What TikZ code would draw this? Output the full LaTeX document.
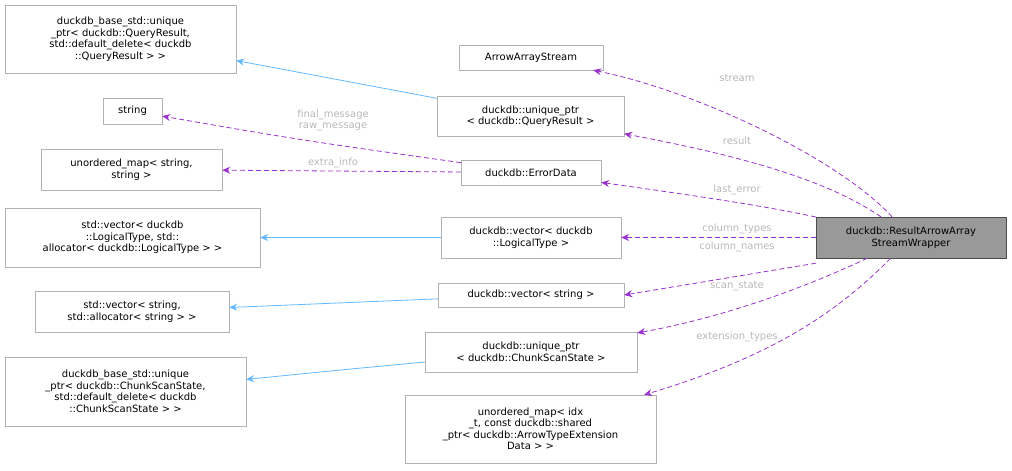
\documentclass[tikz,border=0pt]{standalone}
\usepackage{fontspec}
\setmainfont{DejaVu Sans}
\usetikzlibrary{arrows.meta}
\definecolor{memc}{RGB}{154,50,205}
\definecolor{inhc}{RGB}{99,184,255}
\begin{document}
\begin{tikzpicture}[x=1pt,y=-1pt,
 box/.style={draw=black!30,fill=white,align=center,inner sep=2pt,font=\fontsize{10}{11.5}\selectfont},
 mem/.style={draw=memc,line width=0.8pt,dash pattern=on 5pt off 3pt,-{Stealth[length=8pt,width=7pt]}},
 inh/.style={draw=inhc,line width=0.8pt,-{Stealth[length=8pt,width=7pt]}},
 lab/.style={text=black!28,font=\fontsize{10}{11}\selectfont,inner sep=0pt,align=center}]
\useasboundingbox (0,0) rectangle (1012,471);
\node[box,minimum width=231,minimum height=68] (b1) at (120.5,39) {duckdb\_base\_std::unique\\\_ptr< duckdb::QueryResult,\\ std::default\_delete< duckdb\\::QueryResult > >};
\node[box,minimum width=144,minimum height=25] (aas) at (531,57.5) {ArrowArrayStream};
\node[box,minimum width=59,minimum height=26] (str) at (132.5,111) {string};
\node[box,minimum width=187,minimum height=40] (uq) at (530.5,116) {duckdb::unique\_ptr\\< duckdb::QueryResult >};
\node[box,minimum width=181,minimum height=41] (um) at (131.5,169.5) {unordered\_map< string,\\ string >};
\node[box,minimum width=140,minimum height=25] (ed) at (531,172.5) {duckdb::ErrorData};
\node[box,minimum width=255,minimum height=59] (sv) at (132.5,237.5) {std::vector< duckdb\\::LogicalType, std::\\allocator< duckdb::LogicalType > >};
\node[box,minimum width=180,minimum height=41] (vl) at (531,237.5) {duckdb::vector< duckdb\\::LogicalType >};
\node[box,fill=black!40,draw=black!70,minimum width=190,minimum height=41] (w) at (911,237.5) {duckdb::ResultArrowArray\\StreamWrapper};
\node[box,minimum width=186,minimum height=24] (vs) at (531,295) {duckdb::vector< string >};
\node[box,minimum width=194,minimum height=41] (ss) at (132,311.5) {std::vector< string,\\ std::allocator< string > >};
\node[box,minimum width=212,minimum height=40] (uc) at (531,352) {duckdb::unique\_ptr\\< duckdb::ChunkScanState >};
\node[box,minimum width=241,minimum height=69] (b2) at (125.5,391.5) {duckdb\_base\_std::unique\\\_ptr< duckdb::ChunkScanState,\\ std::default\_delete< duckdb\\::ChunkScanState > >};
\node[box,minimum width=251,minimum height=68] (ue) at (530.5,429) {unordered\_map< idx\\\_t, const duckdb::shared\\\_ptr< duckdb::ArrowTypeExtension\\Data > >};
% inheritance
\draw[inh] (uq) .. controls (340,80) .. (b1);
\draw[inh] (vl) -- (sv);
\draw[inh] (vs) -- (ss);
\draw[inh] (uc) .. controls (340,370) .. (b2);
% members
\draw[mem] (ed) .. controls (300,140) .. (str);
\draw[mem] (ed) -- (um);
\draw[mem] (w) .. controls (840,160) and (700,92) .. (aas);
\draw[mem] (w) .. controls (820,175) and (720,152) .. (uq);
\draw[mem] (w) .. controls (760,205) and (690,195) .. (ed);
\draw[mem] (w.west) -- (vl.east);
\draw[mem] ([yshift=-5pt]w.south west) -- (vs.east);
\draw[mem] (w) .. controls (800,290) and (720,318) .. (uc);
\draw[mem] (w) .. controls (830,320) and (760,360) .. (ue);
% labels
\node[lab] at (737,78) {stream};
\node[lab] at (737,141) {result};
\node[lab] at (737,190) {last\_error};
\node[lab] at (737,229) {column\_types};
\node[lab] at (737,247) {column\_names};
\node[lab] at (737,286) {scan\_state};
\node[lab] at (737,337) {extension\_types};
\node[lab] at (333,120) {final\_message\\raw\_message};
\node[lab] at (333,163) {extra\_info};
\end{tikzpicture}
\end{document}
